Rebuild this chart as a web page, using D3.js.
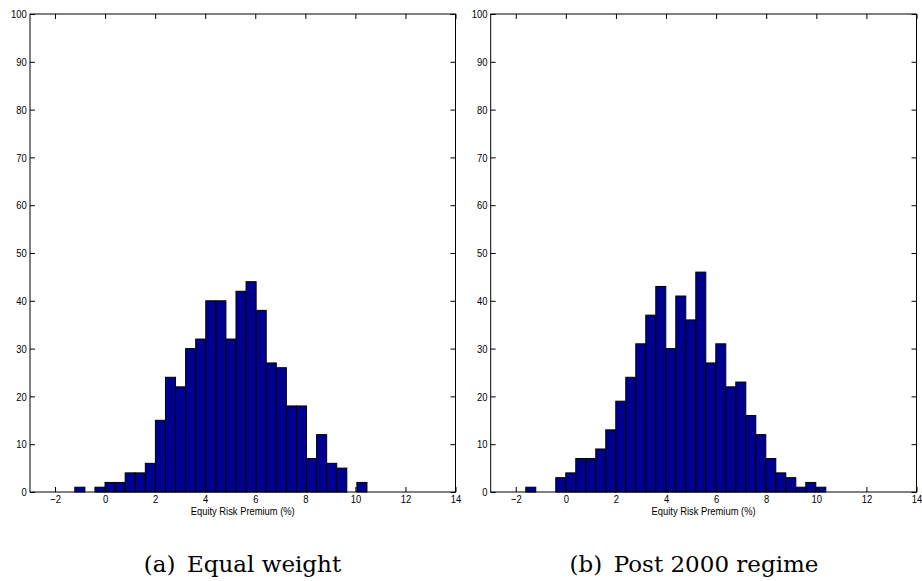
<!DOCTYPE html>
<html>
<head>
<meta charset="utf-8">
<script src="https://cdn.jsdelivr.net/npm/d3@7"></script>
<style>
  body { margin: 0; background: #fff; }
  svg { display: block; }
  .tick text { font-family: "Liberation Sans Narrow", "Arial Narrow", "Liberation Sans", sans-serif; font-size: 11.5px; fill: #000; }
</style>
</head>
<body>
<div id="chart"></div>
<script>
// histogram counts (bins of ~0.4 %)
var countsA = [1, 0, 1, 2, 2, 4, 4, 6, 15, 24, 22, 30, 32, 40, 40, 32, 42, 44, 38, 27, 26, 18, 18, 7, 12, 6, 5, 0, 2];
var startA = -1.21, widthA = 0.4025;
var countsB = [1, 0, 0, 3, 4, 7, 7, 9, 13, 19, 24, 31, 37, 43, 30, 41, 36, 46, 27, 31, 22, 23, 16, 12, 7, 4, 3, 1, 2, 1];
var startB = -1.6, widthB = 0.3993;

var xTicks = [-2, 0, 2, 4, 6, 8, 10, 12, 14];
var yTicks = [0, 10, 20, 30, 40, 50, 60, 70, 80, 90, 100];
var xDomain = [-3, 14];
var yDomain = [0, 100];
var xLabel = "Equity Risk Premium (%)";
var captions = ["(a)\u2002Equal weight", "(b)\u2002Post 2000 regime"];

var width = 922, height = 581;
var plotTop = 14, plotBottom = 492;

var panels = [
    { left: 30, right: 455.5, capX: 242.5, counts: countsA, start: startA, bw: widthA, caption: captions[0] },
    { left: 490.7, right: 916.5, capX: 694, counts: countsB, start: startB, bw: widthB, caption: captions[1] }
];

var svg = d3.select("#chart")
    .append("svg")
    .attr("width", width)
    .attr("height", height);

// no narrow font installed, so squeeze the tick labels a bit
function narrow(sel) {
    sel.selectAll(".tick text").attr("transform", "scale(0.82,1)");
}

panels.forEach(function (p) {
    var x = d3.scaleLinear().domain(xDomain).range([p.left, p.right]);
    var y = d3.scaleLinear().domain(yDomain).range([plotBottom, plotTop]);

    var bins = p.counts.map(function (c, i) {
        return { x0: p.start + i * p.bw, x1: p.start + (i + 1) * p.bw, n: c };
    });

    var g = svg.append("g");

    g.selectAll("rect.bar")
        .data(bins.filter(function (d) { return d.n > 0; }))
        .enter()
        .append("rect")
        .attr("class", "bar")
        .attr("x", function (d) { return x(d.x0); })
        .attr("y", function (d) { return y(d.n); })
        .attr("width", function (d) { return x(d.x1) - x(d.x0); })
        .attr("height", function (d) { return y(0) - y(d.n); })
        .attr("fill", "#000090")
        .attr("stroke", "#000")
        .attr("stroke-width", 1);

    // bottom axis, ticks point inward like matlab
    var ax = g.append("g")
        .attr("transform", "translate(0," + plotBottom + ")")
        .call(d3.axisBottom(x).tickValues(xTicks).tickSize(-5).tickPadding(3)
            .tickFormat(function (d) { return d < 0 ? "\u2212" + Math.abs(d) : d; }));
    ax.select(".domain").remove();
    narrow(ax);

    var axT = g.append("g")
        .attr("transform", "translate(0," + plotTop + ")")
        .call(d3.axisTop(x).tickValues(xTicks).tickSize(-5).tickFormat(""));
    axT.select(".domain").remove();

    var ay = g.append("g")
        .attr("transform", "translate(" + p.left + ",0)")
        .call(d3.axisLeft(y).tickValues(yTicks).tickSize(-5).tickPadding(4));
    ay.select(".domain").remove();
    narrow(ay);

    var ayR = g.append("g")
        .attr("transform", "translate(" + p.right + ",0)")
        .call(d3.axisRight(y).tickValues(yTicks).tickSize(-5).tickFormat(""));
    ayR.select(".domain").remove();

    g.append("rect")
        .attr("x", p.left)
        .attr("y", plotTop)
        .attr("width", p.right - p.left)
        .attr("height", plotBottom - plotTop)
        .attr("fill", "none")
        .attr("stroke", "#000")
        .attr("stroke-width", 1);

    g.append("text")
        .attr("x", (p.left + p.right) / 2)
        .attr("y", 515)
        .attr("text-anchor", "middle")
        .attr("textLength", 104)
        .attr("lengthAdjust", "spacingAndGlyphs")
        .style("font-family", "'Liberation Sans Narrow', 'Arial Narrow', 'Liberation Sans', sans-serif")
        .style("font-size", "11.5px")
        .text(xLabel);

    g.append("text")
        .attr("x", p.capX)
        .attr("y", 572)
        .attr("text-anchor", "middle")
        .style("font-family", "'DejaVu Serif', serif")
        .style("font-size", "23px")
        .text(p.caption);
});
</script>
</body>
</html>
